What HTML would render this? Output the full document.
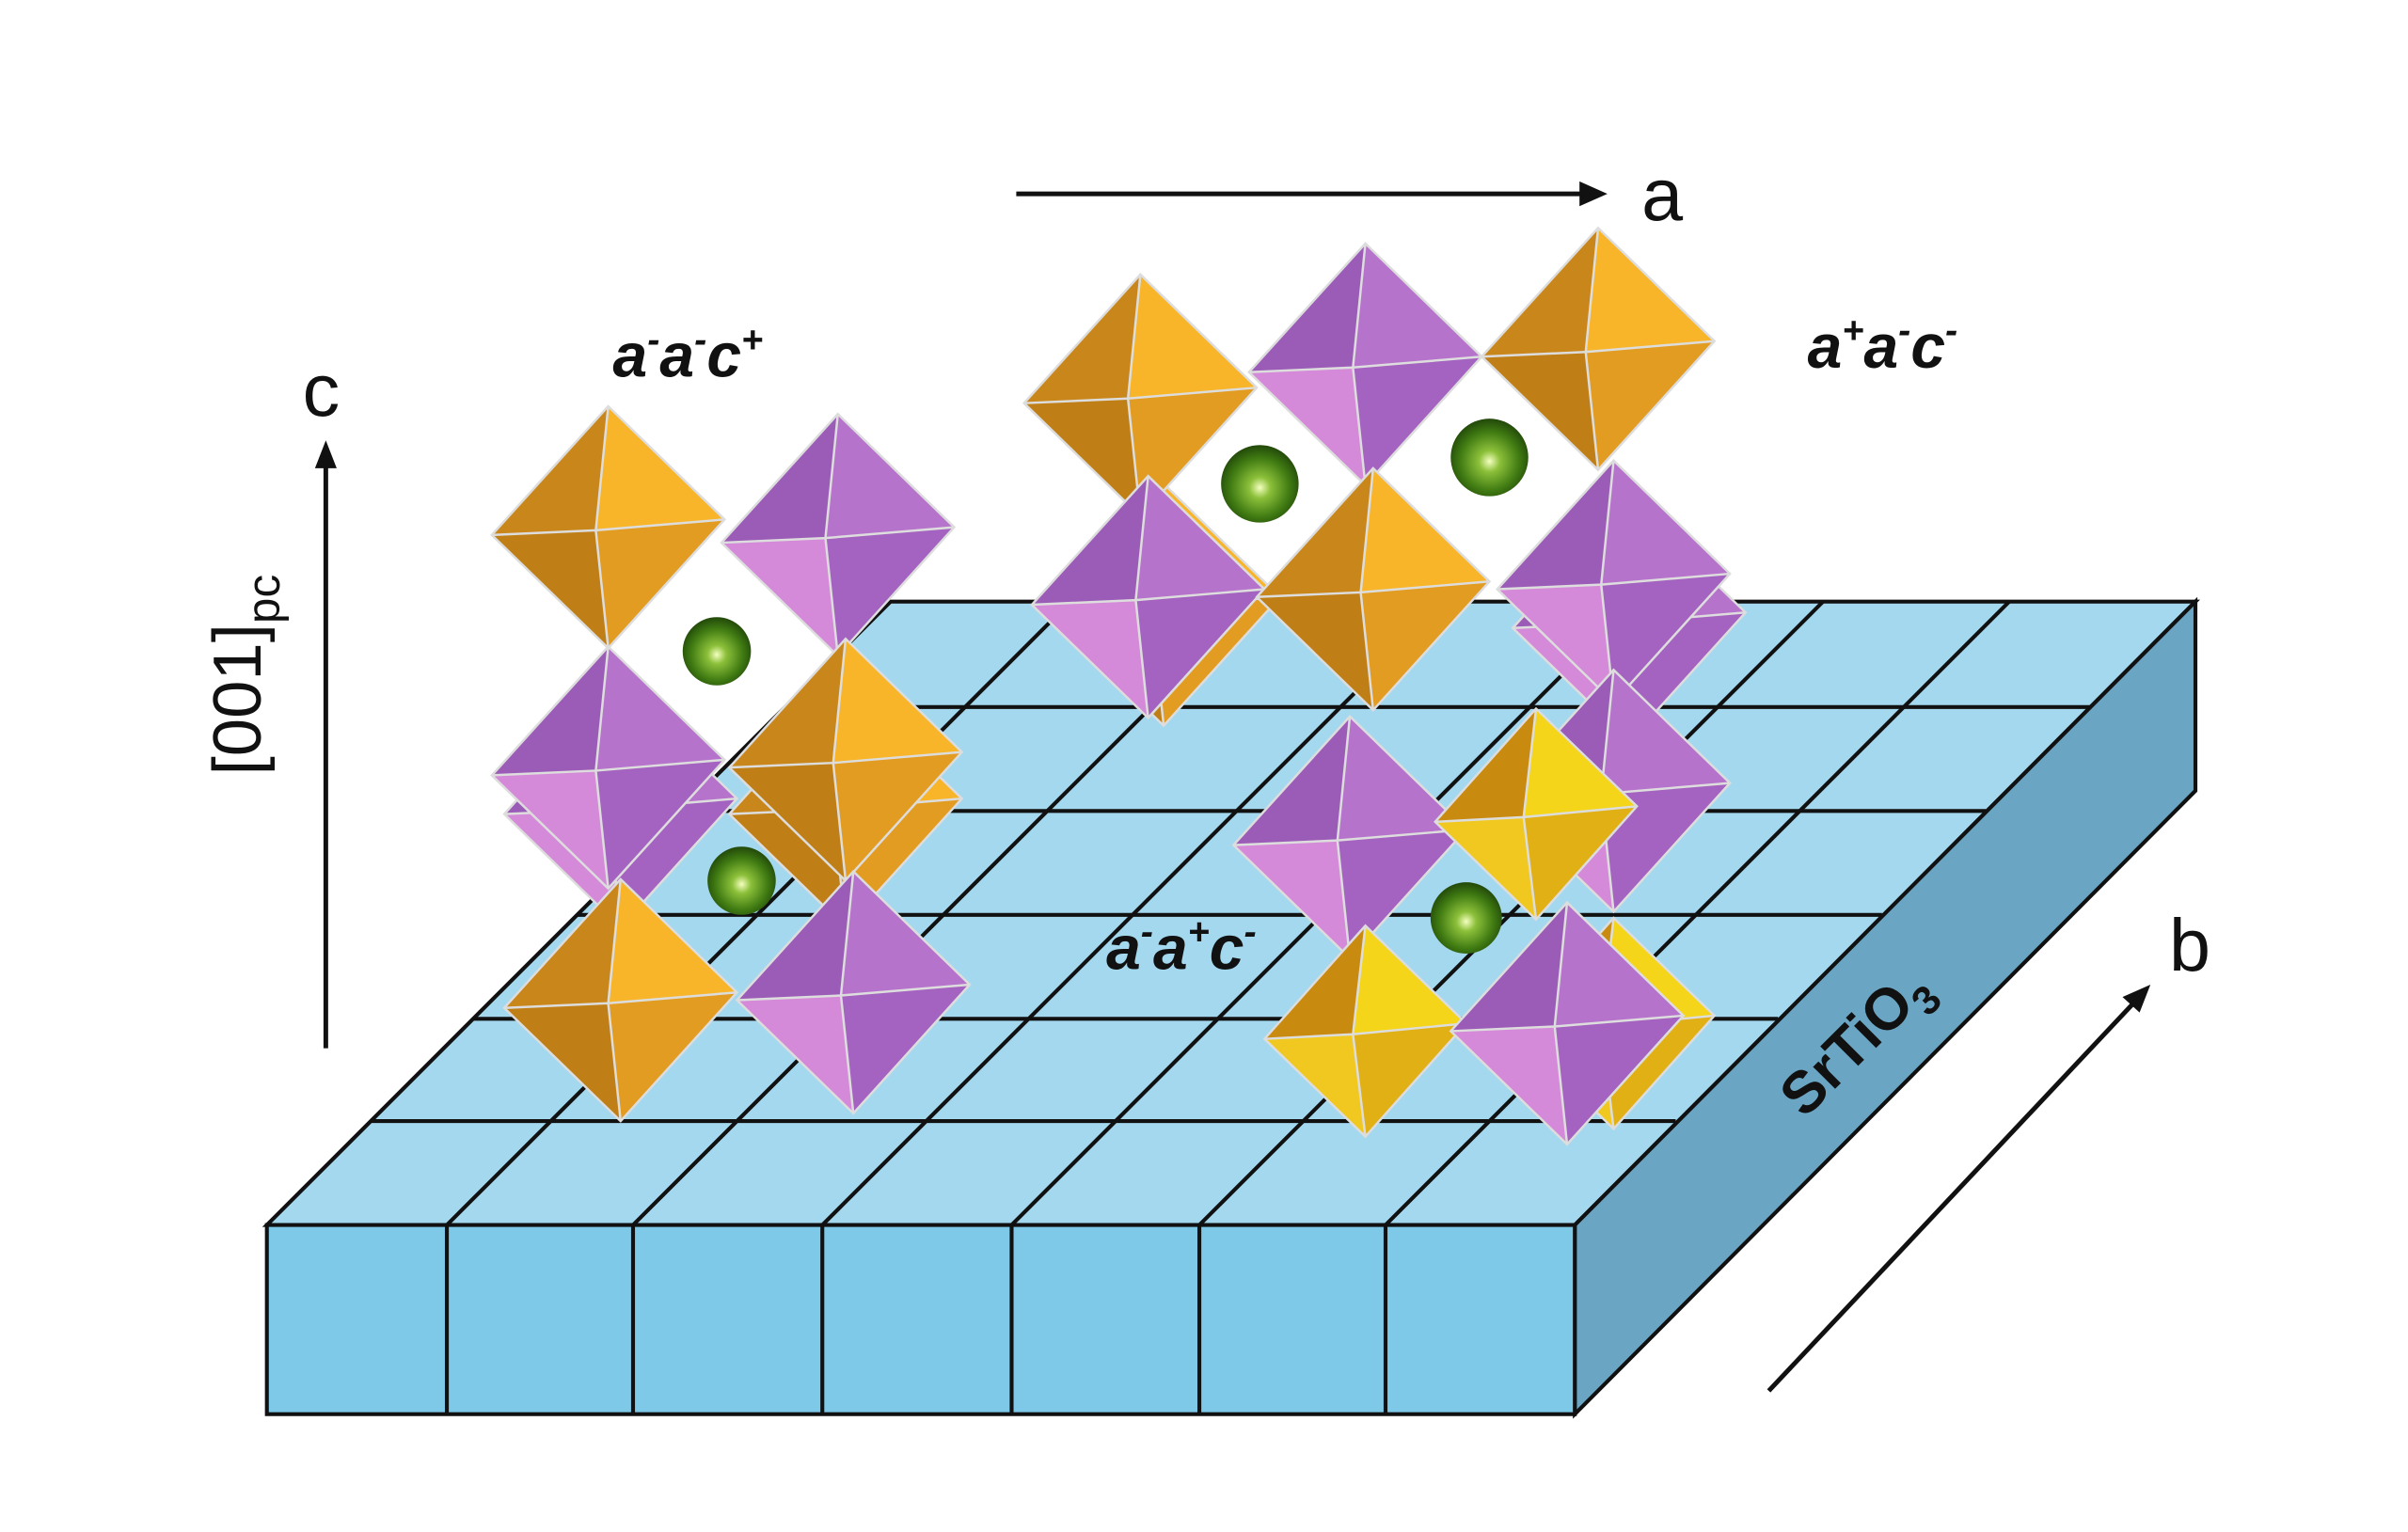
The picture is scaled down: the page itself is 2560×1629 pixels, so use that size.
<!DOCTYPE html>
<html><head><meta charset="utf-8"><style>
html,body{margin:0;padding:0;background:#fff;}
svg{display:block}
</style></head><body>
<svg width="2560" height="1629" viewBox="0 0 1552 988" preserveAspectRatio="none" xmlns="http://www.w3.org/2000/svg">
<defs>
<radialGradient id="g" cx="0.5" cy="0.55" r="0.55">
<stop offset="0" stop-color="#f4ffc0"/><stop offset="0.25" stop-color="#8cc03a"/><stop offset="0.7" stop-color="#3f7a12"/><stop offset="1" stop-color="#22480a"/>
</radialGradient>
<g id="o">
<polygon points="-75,5 0,-78 -8,2" fill="#c9861a"/>
<polygon points="0,-78 75,-5 -8,2" fill="#f8b52a"/>
<polygon points="75,-5 0,78 -8,2" fill="#e39c22"/>
<polygon points="0,78 -75,5 -8,2" fill="#bf7f16"/>
<g stroke="#ddd" stroke-width="1.5" fill="none"><polygon points="-75,5 0,-78 75,-5 0,78"/><path d="M-75,5 L-8,2 L75,-5 M0,-78 L-8,2 L0,78"/></g>
</g>
<g id="p">
<polygon points="-75,5 0,-78 -8,2" fill="#9b5cb8"/>
<polygon points="0,-78 75,-5 -8,2" fill="#b673cc"/>
<polygon points="75,-5 0,78 -8,2" fill="#a463c0"/>
<polygon points="0,78 -75,5 -8,2" fill="#d48ad8"/>
<g stroke="#ddd" stroke-width="1.5" fill="none"><polygon points="-75,5 0,-78 75,-5 0,78"/><path d="M-75,5 L-8,2 L75,-5 M0,-78 L-8,2 L0,78"/></g>
</g>
<g id="y">
<polygon points="-65,5 0,-68 -8,2" fill="#c98a10"/>
<polygon points="0,-68 65,-5 -8,2" fill="#f5d51a"/>
<polygon points="65,-5 0,68 -8,2" fill="#e0b015"/>
<polygon points="0,68 -65,5 -8,2" fill="#f0c820"/>
<g stroke="#ddd" stroke-width="1.5" fill="none"><polygon points="-65,5 0,-68 65,-5 0,68"/><path d="M-65,5 L-8,2 L65,-5 M0,-68 L-8,2 L0,68"/></g>
</g>
</defs>

<polygon points="172,790 574,388 1415,388 1015,790" fill="#a4d8ef" stroke="#111" stroke-width="2.5"/>
<polygon points="1015,790 1415,388 1415,510 1015,912" fill="#6aa6c4" stroke="#111" stroke-width="2.5"/>
<rect x="172" y="790" width="843" height="122" fill="#7ec8e8" stroke="#111" stroke-width="2.5"/>
<g stroke="#111" stroke-width="2.5">
<line x1="288" y1="790" x2="288" y2="912"/><line x1="408" y1="790" x2="408" y2="912"/><line x1="530" y1="790" x2="530" y2="912"/><line x1="652" y1="790" x2="652" y2="912"/><line x1="773" y1="790" x2="773" y2="912"/><line x1="893" y1="790" x2="893" y2="912"/>
<line x1="288" y1="790" x2="690" y2="388"/><line x1="408" y1="790" x2="810" y2="388"/><line x1="530" y1="790" x2="932" y2="388"/><line x1="652" y1="790" x2="1054" y2="388"/><line x1="773" y1="790" x2="1175" y2="388"/><line x1="893" y1="790" x2="1295" y2="388"/>
<line x1="506" y1="456" x2="1347" y2="456"/><line x1="439" y1="523" x2="1280" y2="523"/><line x1="372" y1="590" x2="1213" y2="590"/><line x1="305" y1="657" x2="1146" y2="657"/><line x1="239" y1="723" x2="1080" y2="723"/>
</g>

<use href="#p" transform="translate(400,520)"/>
<use href="#o" transform="translate(545,520)"/>
<use href="#o" transform="translate(392,340)"/>
<use href="#p" transform="translate(540,345)"/>
<circle cx="462" cy="420" r="22" fill="url(#g)"/>
<use href="#p" transform="translate(392,495)"/>
<use href="#o" transform="translate(545,490)"/>
<circle cx="478" cy="568" r="22" fill="url(#g)"/>
<use href="#o" transform="translate(400,645)"/>
<use href="#p" transform="translate(550,640)"/>

<use href="#o" transform="translate(750,390)"/>
<use href="#p" transform="translate(1050,400)"/>
<use href="#o" transform="translate(735,255)"/>
<use href="#p" transform="translate(880,235)"/>
<use href="#o" transform="translate(1030,225)"/>
<circle cx="812" cy="312" r="25" fill="url(#g)"/>
<circle cx="960" cy="295" r="25" fill="url(#g)"/>
<use href="#p" transform="translate(740,385)"/>
<use href="#o" transform="translate(885,380)"/>
<use href="#p" transform="translate(1040,375)"/>

<use href="#p" transform="translate(1040,510)"/>
<use href="#p" transform="translate(870,540)"/>
<use href="#y" transform="translate(990,525)"/>
<use href="#y" transform="translate(1040,660)"/>
<circle cx="945" cy="592" r="23" fill="url(#g)"/>
<use href="#y" transform="translate(880,665)"/>
<use href="#p" transform="translate(1010,660)"/>

<g stroke="#111" stroke-width="3" fill="#111">
<line x1="655" y1="125" x2="1022" y2="125"/><polygon points="1036,125 1018,117 1018,133" stroke="none"/>
<line x1="210" y1="676" x2="210" y2="298"/><polygon points="210,284 203,302 217,302" stroke="none"/>
<line x1="1140" y1="897" x2="1375" y2="647"/><polygon points="1386,635 1368,643 1379,653" stroke="none"/>
</g>
<g font-family="Liberation Sans, sans-serif" fill="#111">
<text x="1058" y="142" font-size="48">a</text>
<text x="195" y="268" font-size="48">c</text>
<text x="1398" y="626" font-size="48">b</text>
<text transform="translate(168,500) rotate(-90)" font-size="44">[001]<tspan font-size="30" dy="12">pc</tspan></text>
<text transform="translate(1163,722) rotate(-45)" font-size="38" font-weight="bold">SrTiO<tspan font-size="26" dy="10">3</tspan></text>
<g font-size="40" font-weight="bold" font-style="italic">
<text x="395" y="243">a<tspan font-size="24" dy="-16">-</tspan><tspan dy="16">a</tspan><tspan font-size="24" dy="-16">-</tspan><tspan dy="16">c</tspan><tspan font-size="24" dy="-16">+</tspan></text>
<text x="1165" y="237">a<tspan font-size="24" dy="-16">+</tspan><tspan dy="16">a</tspan><tspan font-size="24" dy="-16">-</tspan><tspan dy="16">c</tspan><tspan font-size="24" dy="-16">-</tspan></text>
<text x="713" y="625">a<tspan font-size="24" dy="-16">-</tspan><tspan dy="16">a</tspan><tspan font-size="24" dy="-16">+</tspan><tspan dy="16">c</tspan><tspan font-size="24" dy="-16">-</tspan></text>
</g>
</g>
</svg>
</body></html>
